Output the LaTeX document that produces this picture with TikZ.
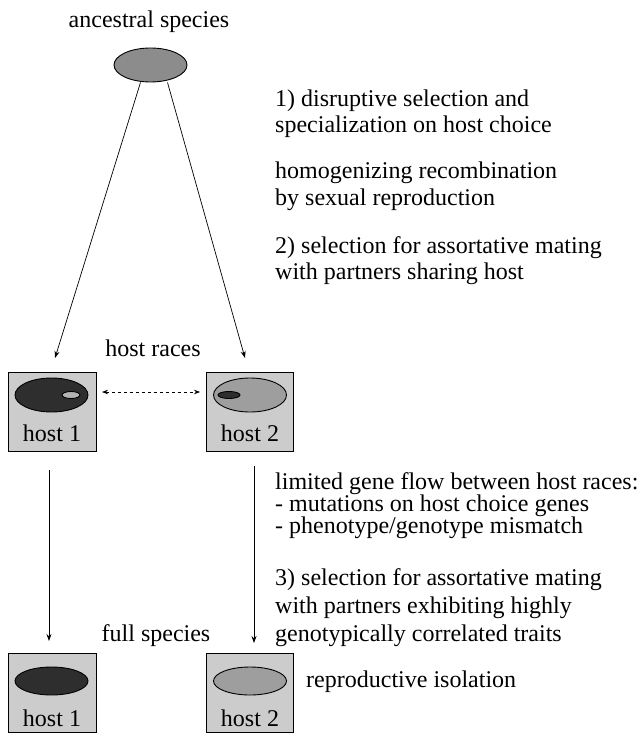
\documentclass[tikz,border=0pt]{standalone}
\usepackage{fontspec}
\setmainfont{Liberation Serif}
\usetikzlibrary{shapes.geometric,arrows.meta}
\definecolor{boxgray}{gray}{0.80}
\definecolor{darkblob}{gray}{0.18}
\definecolor{midblob}{gray}{0.62}
\definecolor{ancblob}{gray}{0.55}
\definecolor{lightblob}{gray}{0.70}
\begin{document}
\begin{tikzpicture}[x=1pt,y=-1pt,
 lbl/.style={font=\fontsize{24}{27}\selectfont, inner sep=0pt},
 hostbox/.style={draw, fill=boxgray, minimum width=88pt, minimum height=79pt, inner sep=0pt, line width=0.8pt, anchor=north west},
 blob/.style={ellipse, draw, line width=0.9pt, minimum width=73pt, minimum height=34pt, inner sep=0pt},
 arr/.style={-{Stealth[length=7pt,width=5pt]}, line width=0.7pt},
]
\useasboundingbox (0,0) rectangle (639,735);
\clip (0,0) rectangle (639,735);

% ancestral
\node[lbl, anchor=base] (anc) at (149,28) {ancestral species};
\node[blob, fill=ancblob] (ae) at (150.5,65) {};

% host races
\node[hostbox] (b1) at (8,372) {};
\node[hostbox, minimum width=87pt] (b2) at (206,372) {};
\node[blob, fill=darkblob] (e1) at (51.5,395) {};
\node[blob, fill=lightblob, minimum width=18pt, minimum height=7pt] (s1) at (71,395) {};
\node[blob, fill=midblob] (e2) at (250,395) {};
\node[blob, fill=darkblob, minimum width=22pt, minimum height=7pt] (s2) at (229,395) {};
\node[lbl, anchor=base] (h1) at (52,441) {host 1};
\node[lbl, anchor=base] (h2) at (250,441) {host 2};
\node[lbl, anchor=base] (races) at (153,356) {host races};

\coordinate (t1) at (55,358);
\coordinate (t2) at (245,358);
\draw[arr] ([xshift=-10pt]ae.south) -- (t1);
\draw[arr] ([xshift=17pt]ae.south) -- (t2);

\coordinate (d1) at (102,392);
\coordinate (d2) at (200,392);
\draw[{Stealth[length=6pt,width=4.5pt]}-{Stealth[length=6pt,width=4.5pt]}, dashed, line width=0.7pt] (d1) -- (d2);

% vertical arrows
\coordinate (v1s) at (49,470);
\coordinate (v1e) at (49,641);
\coordinate (v2s) at (254,466);
\coordinate (v2e) at (254,643);
\draw[arr] (v1s) -- (v1e);
\draw[arr] (v2s) -- (v2e);

% full species
\node[lbl, anchor=base] (full) at (156,641) {full species};
\node[hostbox] (b3) at (8,653) {};
\node[hostbox, minimum width=87pt] (b4) at (206,653) {};
\node[blob, fill=darkblob, minimum height=28pt] (e3) at (51.5,681) {};
\node[blob, fill=midblob, minimum height=28pt] (e4) at (250,681) {};
\node[lbl, anchor=base] (h3) at (52,726) {host 1};
\node[lbl, anchor=base] (h4) at (250,726) {host 2};
\node[lbl, anchor=base west] (iso) at (306,687) {reproductive isolation};

% right texts
\node[lbl, anchor=base west] (r1) at (275,107) {1) disruptive selection and};
\node[lbl, anchor=base west] (r2) at (275,133) {specialization on host choice};
\node[lbl, anchor=base west] (r3) at (275,179) {homogenizing recombination};
\node[lbl, anchor=base west] (r4) at (275,205) {by sexual reproduction};
\node[lbl, anchor=base west] (r5) at (275,253) {2) selection for assortative mating};
\node[lbl, anchor=base west] (r6) at (275,279) {with partners sharing host};
\node[lbl, anchor=base west] (r7) at (275,489) {limited gene flow between host races:};
\node[lbl, anchor=base west] (r8) at (275,511) {- mutations on host choice genes};
\node[lbl, anchor=base west] (r9) at (275,533) {- phenotype/genotype mismatch};
\node[lbl, anchor=base west] (r10) at (275,585) {3) selection for assortative mating};
\node[lbl, anchor=base west] (r11) at (275,613) {with partners exhibiting highly};
\node[lbl, anchor=base west] (r12) at (275,641) {genotypically correlated traits};
\end{tikzpicture}
\end{document}
